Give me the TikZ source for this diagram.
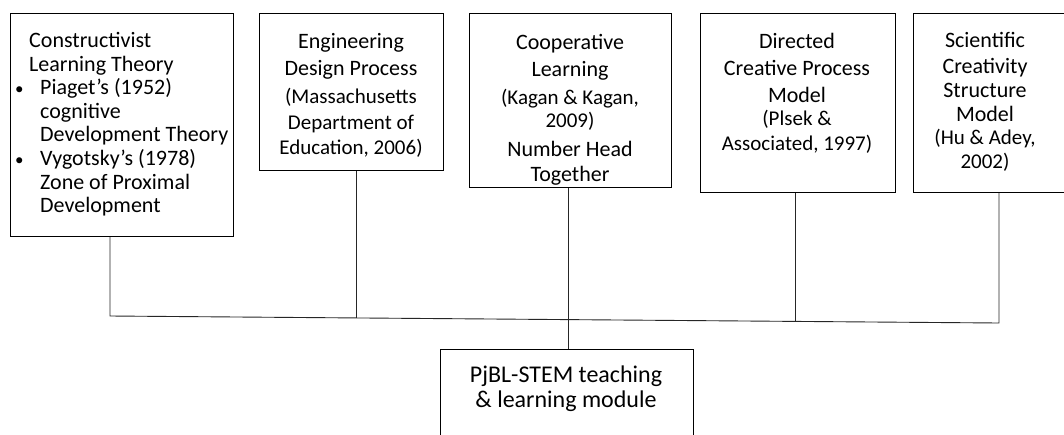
\documentclass[tikz,border=0pt]{standalone}
\usepackage{fontspec}
\setmainfont{Carlito}
\begin{document}
\begin{tikzpicture}[x=1pt,y=-1pt,
  box/.style={draw, line width=1.1pt, rectangle, inner sep=0pt, anchor=north west},
  txt/.style={inner sep=0pt, font=\fontsize{22}{24}\selectfont},
  conn/.style={line width=0.9pt, draw=black!85}]
\useasboundingbox (0,0) rectangle (1064,434);
\clip (0,0) rectangle (1064,434);
\newcommand{\sm}{\fontsize{21}{24}\selectfont}
\newcommand{\bul}{\makebox[30pt][l]{\hspace{5pt}{\fontsize{17}{17}\selectfont •}}}
% boxes
\node[box, minimum width=223pt, minimum height=223pt] (b1) at (10,13) {};
\node[box, minimum width=184pt, minimum height=157pt] (b2) at (259,13) {};
\node[box, minimum width=202pt, minimum height=174pt] (b3) at (469,13) {};
\node[box, minimum width=195pt, minimum height=179pt] (b4) at (700,13) {};
\node[box, minimum width=160pt, minimum height=179pt] (b5) at (913,13) {};
\node[box, minimum width=253pt, minimum height=100pt] (out) at (440,349) {};
% texts
\node[txt, anchor=north west, align=left, font=\fontsize{22}{23.6}\selectfont] (t1) at (10,32)
  {\hspace*{19pt}Constructivist\\
   \hspace*{19pt}Learning Theory\\
   \bul Piaget’s (1952)\\
   \hspace*{30pt}cognitive\\
   \hspace*{30pt}Development Theory\\
   \bul Vygotsky’s (1978)\\
   \hspace*{30pt}Zone of Proximal\\
   \hspace*{30pt}Development};
\node[txt, anchor=north, align=center] (t2) at (351,33)
  {Engineering\\[3pt]Design Process\\[4pt]{\sm (Massachusetts}\\[2pt]{\sm Department of}\\[1pt]{\sm Education, 2006)}};
\node[txt, anchor=north, align=center] (t3) at (570,34)
  {Cooperative\\[3pt]Learning\\[4pt]{\sm (Kagan \& Kagan,}\\[-1pt]{\sm 2009)}\\[5pt]Number Head\\[1pt]Together};
\node[txt, anchor=north, align=center] (t4) at (797,33)
  {Directed\\[3pt]Creative Process\\[3pt]Model\\[-1pt]{\sm (Plsek \&}\\[1pt]{\sm Associated, 1997)}};
\node[txt, anchor=north, align=center] (t5) at (985,32)
  {Scientific\\[2pt]Creativity\\Structure\\Model\\[-1pt]{\sm (Hu \& Adey,}\\{\sm 2002)}};
\node[txt, anchor=north, align=center, font=\fontsize{24}{25}\selectfont] (t6) at (566,366)
  {PjBL-STEM teaching\\\& learning module};
% junctions on the connecting line
\coordinate (j1) at (110,316);
\coordinate (j2) at (356,317.9);
\coordinate (j3) at (568,319.6);
\coordinate (j4) at (795,321.4);
\coordinate (j5) at (999,323);
\draw[conn] (j1 |- b1.south) -- (j1) -- (j5) -- (j5 |- b5.south);
\draw[conn] (j2 |- b2.south) -- (j2);
\draw[conn] (j3 |- b3.south) -- (j3 |- out.north);
\draw[conn] (j4 |- b4.south) -- (j4);
\end{tikzpicture}
\end{document}
